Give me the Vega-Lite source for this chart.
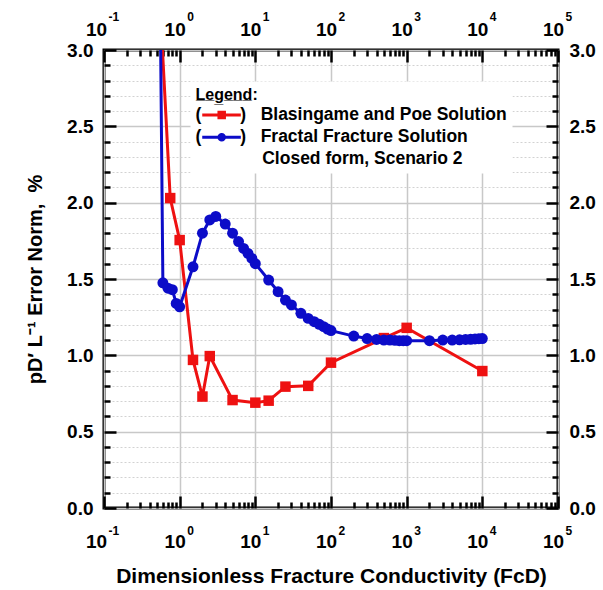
{
  "$schema": "https://vega.github.io/schema/vega-lite/v6.json",
  "width": 454,
  "height": 458,
  "autosize": {"type": "none"},
  "padding": {"left": 104, "top": 50, "right": 45, "bottom": 82},
  "background": "white",
  "config": {
    "font": "Liberation Sans",
    "view": {"stroke": "black", "strokeWidth": 3},
    "axis": {
      "domain": false,
      "labelFont": "Liberation Sans",
      "labelFontWeight": "bold",
      "labelColor": "black",
      "titleFont": "Liberation Sans",
      "titleFontWeight": "bold",
      "titleColor": "black",
      "tickColor": "black",
      "gridColor": "#c8c8c8",
      "labelFlush": false,
      "labelOverlap": false,
      "labelBound": false
    }
  },
  "data": {
    "values": [
      {"series": "Blasingame and Poe Solution", "FcD": 0.5, "err": 3.7},
      {"series": "Blasingame and Poe Solution", "FcD": 0.75, "err": 2.03},
      {"series": "Blasingame and Poe Solution", "FcD": 1, "err": 1.755},
      {"series": "Blasingame and Poe Solution", "FcD": 1.5, "err": 0.97},
      {"series": "Blasingame and Poe Solution", "FcD": 2, "err": 0.73},
      {"series": "Blasingame and Poe Solution", "FcD": 2.5, "err": 0.995},
      {"series": "Blasingame and Poe Solution", "FcD": 5, "err": 0.707},
      {"series": "Blasingame and Poe Solution", "FcD": 10, "err": 0.69},
      {"series": "Blasingame and Poe Solution", "FcD": 15, "err": 0.703},
      {"series": "Blasingame and Poe Solution", "FcD": 25, "err": 0.795},
      {"series": "Blasingame and Poe Solution", "FcD": 50, "err": 0.8},
      {"series": "Blasingame and Poe Solution", "FcD": 100, "err": 0.952},
      {"series": "Blasingame and Poe Solution", "FcD": 500, "err": 1.113},
      {"series": "Blasingame and Poe Solution", "FcD": 1000, "err": 1.18},
      {"series": "Blasingame and Poe Solution", "FcD": 10000, "err": 0.897},
      {"series": "Fractal Fracture Solution", "FcD": 0.5, "err": 5.6},
      {"series": "Fractal Fracture Solution", "FcD": 0.6, "err": 1.475},
      {"series": "Fractal Fracture Solution", "FcD": 0.7, "err": 1.44},
      {"series": "Fractal Fracture Solution", "FcD": 0.8, "err": 1.43},
      {"series": "Fractal Fracture Solution", "FcD": 0.9, "err": 1.34},
      {"series": "Fractal Fracture Solution", "FcD": 1, "err": 1.318},
      {"series": "Fractal Fracture Solution", "FcD": 1.5, "err": 1.58},
      {"series": "Fractal Fracture Solution", "FcD": 2, "err": 1.8},
      {"series": "Fractal Fracture Solution", "FcD": 2.5, "err": 1.887},
      {"series": "Fractal Fracture Solution", "FcD": 3, "err": 1.91},
      {"series": "Fractal Fracture Solution", "FcD": 4, "err": 1.86},
      {"series": "Fractal Fracture Solution", "FcD": 5, "err": 1.8},
      {"series": "Fractal Fracture Solution", "FcD": 6, "err": 1.745},
      {"series": "Fractal Fracture Solution", "FcD": 7, "err": 1.7},
      {"series": "Fractal Fracture Solution", "FcD": 8, "err": 1.668},
      {"series": "Fractal Fracture Solution", "FcD": 9, "err": 1.635},
      {"series": "Fractal Fracture Solution", "FcD": 10, "err": 1.6},
      {"series": "Fractal Fracture Solution", "FcD": 15, "err": 1.493},
      {"series": "Fractal Fracture Solution", "FcD": 20, "err": 1.417},
      {"series": "Fractal Fracture Solution", "FcD": 25, "err": 1.362},
      {"series": "Fractal Fracture Solution", "FcD": 30, "err": 1.33},
      {"series": "Fractal Fracture Solution", "FcD": 40, "err": 1.275},
      {"series": "Fractal Fracture Solution", "FcD": 50, "err": 1.242},
      {"series": "Fractal Fracture Solution", "FcD": 60, "err": 1.22},
      {"series": "Fractal Fracture Solution", "FcD": 70, "err": 1.203},
      {"series": "Fractal Fracture Solution", "FcD": 80, "err": 1.188},
      {"series": "Fractal Fracture Solution", "FcD": 90, "err": 1.172},
      {"series": "Fractal Fracture Solution", "FcD": 100, "err": 1.162},
      {"series": "Fractal Fracture Solution", "FcD": 200, "err": 1.126},
      {"series": "Fractal Fracture Solution", "FcD": 300, "err": 1.11},
      {"series": "Fractal Fracture Solution", "FcD": 400, "err": 1.104},
      {"series": "Fractal Fracture Solution", "FcD": 500, "err": 1.1},
      {"series": "Fractal Fracture Solution", "FcD": 600, "err": 1.1},
      {"series": "Fractal Fracture Solution", "FcD": 700, "err": 1.098},
      {"series": "Fractal Fracture Solution", "FcD": 800, "err": 1.096},
      {"series": "Fractal Fracture Solution", "FcD": 900, "err": 1.096},
      {"series": "Fractal Fracture Solution", "FcD": 1000, "err": 1.096},
      {"series": "Fractal Fracture Solution", "FcD": 2000, "err": 1.096},
      {"series": "Fractal Fracture Solution", "FcD": 3000, "err": 1.1},
      {"series": "Fractal Fracture Solution", "FcD": 4000, "err": 1.1},
      {"series": "Fractal Fracture Solution", "FcD": 5000, "err": 1.102},
      {"series": "Fractal Fracture Solution", "FcD": 6000, "err": 1.104},
      {"series": "Fractal Fracture Solution", "FcD": 7000, "err": 1.105},
      {"series": "Fractal Fracture Solution", "FcD": 8000, "err": 1.107},
      {"series": "Fractal Fracture Solution", "FcD": 9000, "err": 1.109},
      {"series": "Fractal Fracture Solution", "FcD": 10000, "err": 1.11}
    ]
  },
  "layer": [
    {
      "transform": [{"filter": "datum.series == 'Blasingame and Poe Solution'"}],
      "mark": {"type": "line", "color": "#ee1111", "strokeWidth": 3, "clip": true},
      "encoding": {
        "x": {
          "field": "FcD", "type": "quantitative",
          "scale": {"type": "log", "domain": [0.1, 100000], "nice": false},
          "axis": {
            "orient": "bottom", "title": null, "labels": false, "ticks": true,
            "values": [0.1,0.2,0.3,0.4,0.5,0.6,0.7,0.8,0.9,1,2,3,4,5,6,7,8,9,10,20,30,40,50,60,70,80,90,100,200,300,400,500,600,700,800,900,1000,2000,3000,4000,5000,6000,7000,8000,9000,10000,20000,30000,40000,50000,60000,70000,80000,90000,100000],
            "tickSize": {"condition": {"test": "abs(log(datum.value)/LN10 - round(log(datum.value)/LN10)) < 0.001", "value": -12}, "value": -6},
            "tickWidth": 2.5,
            "grid": true,
            "gridOpacity": {"condition": {"test": "abs(log(datum.value)/LN10 - round(log(datum.value)/LN10)) < 0.001", "value": 1}, "value": 0},
            "gridWidth": 1.5
          }
        },
        "y": {
          "field": "err", "type": "quantitative",
          "scale": {"domain": [0, 3], "nice": false, "zero": false},
          "axis": {
            "orient": "left", "title": null, "labels": false, "ticks": true,
            "values": [0,0.1,0.2,0.3,0.4,0.5,0.6,0.7,0.8,0.9,1,1.1,1.2,1.3,1.4,1.5,1.6,1.7,1.8,1.9,2,2.1,2.2,2.3,2.4,2.5,2.6,2.7,2.8,2.9,3],
            "tickSize": {"condition": {"test": "abs(datum.value*2 - round(datum.value*2)) < 0.001", "value": -12}, "value": -6},
            "tickWidth": 2.5,
            "grid": true,
            "gridDash": {"condition": {"test": "abs(datum.value*2 - round(datum.value*2)) < 0.001", "value": []}, "value": [2, 2]},
            "gridColor": {"condition": {"test": "abs(datum.value*2 - round(datum.value*2)) < 0.001", "value": "#c8c8c8"}, "value": "#d2d2d2"},
            "gridWidth": {"condition": {"test": "abs(datum.value*2 - round(datum.value*2)) < 0.001", "value": 1.5}, "value": 1}
          }
        }
      }
    },
    {
      "transform": [{"filter": "datum.series == 'Blasingame and Poe Solution'"}],
      "mark": {"type": "square", "filled": true, "color": "#ee1111", "size": 110, "opacity": 1, "clip": true},
      "encoding": {
        "x": {
          "field": "FcD", "type": "quantitative",
          "scale": {"type": "log", "domain": [0.1, 100000], "nice": false},
          "axis": {
            "orient": "top", "title": null, "labels": false, "ticks": true, "grid": false,
            "values": [0.1,0.2,0.3,0.4,0.5,0.6,0.7,0.8,0.9,1,2,3,4,5,6,7,8,9,10,20,30,40,50,60,70,80,90,100,200,300,400,500,600,700,800,900,1000,2000,3000,4000,5000,6000,7000,8000,9000,10000,20000,30000,40000,50000,60000,70000,80000,90000,100000],
            "tickSize": {"condition": {"test": "abs(log(datum.value)/LN10 - round(log(datum.value)/LN10)) < 0.001", "value": -12}, "value": -6},
            "tickWidth": 2.5
          }
        },
        "y": {
          "field": "err", "type": "quantitative",
          "scale": {"domain": [0, 3], "nice": false, "zero": false},
          "axis": {
            "orient": "right", "title": null, "labels": false, "ticks": true, "grid": false,
            "values": [0,0.1,0.2,0.3,0.4,0.5,0.6,0.7,0.8,0.9,1,1.1,1.2,1.3,1.4,1.5,1.6,1.7,1.8,1.9,2,2.1,2.2,2.3,2.4,2.5,2.6,2.7,2.8,2.9,3],
            "tickSize": {"condition": {"test": "abs(datum.value*2 - round(datum.value*2)) < 0.001", "value": -12}, "value": -6},
            "tickWidth": 2.5
          }
        }
      }
    },
    {
      "transform": [{"filter": "datum.series == 'Fractal Fracture Solution'"}],
      "mark": {"type": "line", "color": "#0c0cc8", "strokeWidth": 3, "clip": true},
      "encoding": {
        "x": {
          "field": "FcD", "type": "quantitative",
          "scale": {"type": "log", "domain": [0.1, 100000], "nice": false},
          "axis": {
            "orient": "bottom", "ticks": false, "grid": false,
            "values": [0.1, 1, 10, 100, 1000, 10000, 100000],
            "labelExpr": "'10'",
            "labelFontSize": 19, "labelBaseline": "top", "labelAlign": "center", "labelPadding": 24,
            "labelOffset": {"condition": {"test": "datum.value < 0.5", "value": -8}, "value": -5},
            "title": "Dimensionless Fracture Conductivity (FcD)",
            "titleFontSize": 21, "titlePadding": 14
          }
        },
        "y": {
          "field": "err", "type": "quantitative",
          "scale": {"domain": [0, 3], "nice": false, "zero": false},
          "axis": {
            "orient": "left", "ticks": false, "grid": false,
            "values": [0, 0.5, 1, 1.5, 2, 2.5, 3], "format": ".1f",
            "labelFontSize": 19, "labelPadding": 11,
            "title": "pD′ L⁻¹ Error Norm,\u00a0\u00a0%",
            "titleFontSize": 20, "titlePadding": 21
          }
        }
      }
    },
    {
      "transform": [{"filter": "datum.series == 'Fractal Fracture Solution'"}],
      "mark": {"type": "circle", "filled": true, "color": "#0c0cc8", "size": 120, "opacity": 1, "clip": true},
      "encoding": {
        "x": {
          "field": "FcD", "type": "quantitative",
          "scale": {"type": "log", "domain": [0.1, 100000], "nice": false},
          "axis": {
            "orient": "top", "ticks": false, "grid": false, "title": null,
            "values": [0.1, 1, 10, 100, 1000, 10000, 100000],
            "labelExpr": "'10'",
            "labelFontSize": 19, "labelBaseline": "bottom", "labelAlign": "center", "labelPadding": 11,
            "labelOffset": {"condition": {"test": "datum.value < 0.5", "value": -8}, "value": -5}
          }
        },
        "y": {
          "field": "err", "type": "quantitative",
          "scale": {"domain": [0, 3], "nice": false, "zero": false},
          "axis": {
            "orient": "right", "ticks": false, "grid": false, "title": null,
            "values": [0, 0.5, 1, 1.5, 2, 2.5, 3], "format": ".1f",
            "labelFontSize": 19, "labelPadding": 11
          }
        }
      }
    },
    {
      "transform": [{"filter": "false"}],
      "mark": {"type": "point", "filled": true, "opacity": 1},
      "encoding": {
        "x": {
          "field": "FcD", "type": "quantitative",
          "scale": {"type": "log", "domain": [0.1, 100000], "nice": false},
          "axis": {
            "orient": "bottom", "ticks": false, "grid": false, "title": null,
            "values": [0.1, 1, 10, 100, 1000, 10000, 100000],
            "labelExpr": "'' + round(log(datum.value)/LN10)",
            "labelFontSize": 12, "labelBaseline": "top", "labelAlign": "left", "labelPadding": 17,
            "labelOffset": {"condition": {"test": "datum.value < 0.5", "value": 4}, "value": 7}
          }
        },
        "y": {
          "field": "err", "type": "quantitative",
          "scale": {"domain": [0, 3], "nice": false, "zero": false},
          "axis": null
        },
        "color": {
          "field": "series", "type": "nominal",
          "scale": {
            "domain": ["Blasingame and Poe Solution", "Fractal Fracture Solution", "Closed form, Scenario 2"],
            "range": ["#ee1111", "#0c0cc8", "rgba(255,255,255,0)"]
          },
          "legend": {
            "title": "L\u0332e\u0332g\u0332e\u0332n\u0332d\u0332:",
            "orient": "none", "legendX": 86.5, "legendY": 31.5,
            "fillColor": "white", "padding": 5,
            "titleFont": "Liberation Sans", "titleFontSize": 16, "titleFontWeight": "bold", "titleColor": "black", "titlePadding": 3.75,
            "labelFont": "Liberation Sans", "labelFontSize": 17.5, "labelFontWeight": "bold", "labelColor": "black", "labelLimit": 600,
            "labelOffset": -34.95,
            "symbolSize": 289, "symbolStrokeWidth": 0, "symbolOffset": 17.45, "rowPadding": 3.2,
            "labelExpr": "datum.label == 'Blasingame and Poe Solution' ? '(\u00a0\u00a0\u00a0\u00a0\u00a0\u00a0\u00a0\u00a0)\u00a0\u00a0\u00a0Blasingame and Poe Solution' : datum.label == 'Fractal Fracture Solution' ? '(\u00a0\u00a0\u00a0\u00a0\u00a0\u00a0\u00a0\u00a0)\u00a0\u00a0\u00a0Fractal Fracture Solution' : '\u200b\u00a0\u00a0\u00a0\u00a0\u00a0\u00a0\u00a0\u00a0\u00a0\u00a0\u00a0\u00a0\u00a0\u2009' + datum.label"
          }
        },
        "shape": {
          "field": "series", "type": "nominal",
          "scale": {
            "domain": ["Blasingame and Poe Solution", "Fractal Fracture Solution", "Closed form, Scenario 2"],
            "range": [
              "M-2.29,-0.18H2.25V0.18H-2.29Z M-0.5,-0.5H0.5V0.5H-0.5Z",
              "M-2.29,-0.18H2.25V0.18H-2.29Z M0.5,0A0.5,0.5 0 1,1 -0.5,0A0.5,0.5 0 1,1 0.5,0Z",
              "M0,0H0.01V0.01H0Z"
            ]
          },
          "legend": {
            "title": "L\u0332e\u0332g\u0332e\u0332n\u0332d\u0332:",
            "orient": "none", "legendX": 86.5, "legendY": 31.5,
            "fillColor": "white", "padding": 5,
            "titleFont": "Liberation Sans", "titleFontSize": 16, "titleFontWeight": "bold", "titleColor": "black", "titlePadding": 3.75,
            "labelFont": "Liberation Sans", "labelFontSize": 17.5, "labelFontWeight": "bold", "labelColor": "black", "labelLimit": 600,
            "labelOffset": -34.95,
            "symbolSize": 289, "symbolStrokeWidth": 0, "symbolOffset": 17.45, "rowPadding": 3.2,
            "labelExpr": "datum.label == 'Blasingame and Poe Solution' ? '(\u00a0\u00a0\u00a0\u00a0\u00a0\u00a0\u00a0\u00a0)\u00a0\u00a0\u00a0Blasingame and Poe Solution' : datum.label == 'Fractal Fracture Solution' ? '(\u00a0\u00a0\u00a0\u00a0\u00a0\u00a0\u00a0\u00a0)\u00a0\u00a0\u00a0Fractal Fracture Solution' : '\u200b\u00a0\u00a0\u00a0\u00a0\u00a0\u00a0\u00a0\u00a0\u00a0\u00a0\u00a0\u00a0\u00a0\u2009' + datum.label"
          }
        }
      }
    },
    {
      "transform": [{"filter": "false"}],
      "mark": {"type": "point", "filled": true, "opacity": 1},
      "encoding": {
        "x": {
          "field": "FcD", "type": "quantitative",
          "scale": {"type": "log", "domain": [0.1, 100000], "nice": false},
          "axis": {
            "orient": "top", "ticks": false, "grid": false, "title": null,
            "values": [0.1, 1, 10, 100, 1000, 10000, 100000],
            "labelExpr": "'' + round(log(datum.value)/LN10)",
            "labelFontSize": 12, "labelBaseline": "bottom", "labelAlign": "left", "labelPadding": 27,
            "labelOffset": {"condition": {"test": "datum.value < 0.5", "value": 4}, "value": 7}
          }
        },
        "y": {
          "field": "err", "type": "quantitative",
          "scale": {"domain": [0, 3], "nice": false, "zero": false},
          "axis": null
        }
      }
    }
  ],
  "resolve": {"axis": {"x": "independent", "y": "independent"}}
}
